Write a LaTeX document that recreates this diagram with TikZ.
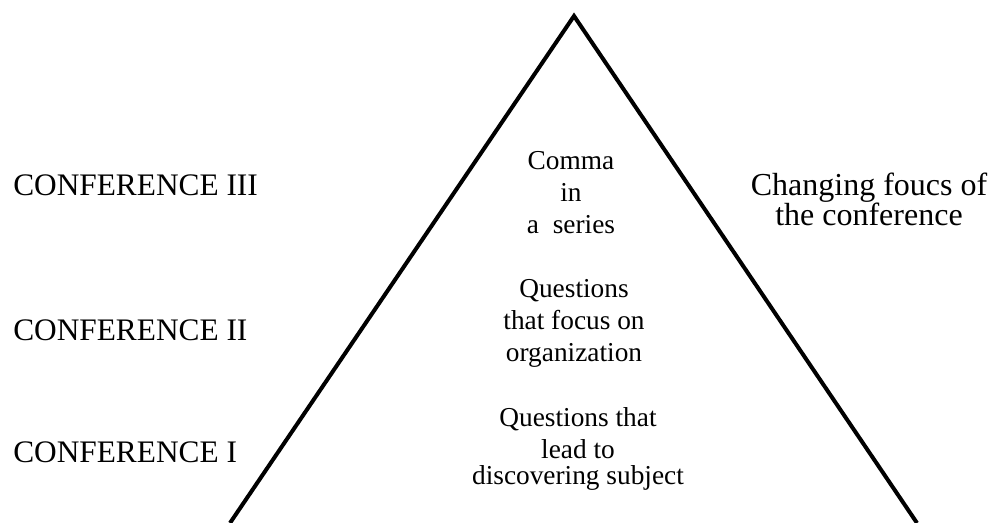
\documentclass[tikz,border=0pt]{standalone}
\usepackage{fontspec}
\setmainfont{Liberation Serif}
\usepackage{tikz}

\tikzset{
	sidelabel/.style={anchor=west, inner sep=0pt, font=\fontsize{23.5}{26}\selectfont},
	inlabel/.style={align=center, inner sep=0pt, font=\fontsize{20.5}{24}\selectfont},
	focuslabel/.style={align=center, inner sep=0pt, font=\fontsize{24}{22.5}\selectfont}
}

\begin{document}
\begin{tikzpicture}[x=0.75pt, y=-0.75pt]
		\useasboundingbox (0, 0) rectangle (994, 523);
		% pyramid
		\coordinate (apex) at (574, 16);
		\coordinate (baseleft) at (230, 523);
		\coordinate (baseright) at (917, 523);
		\draw[line width=3pt, line join=miter] (baseleft) -- (apex) -- (baseright);
		% levels on the left
		\node[sidelabel] (confthree) at (13, 185) {CONFERENCE III};
		\node[sidelabel] (conftwo) at (13, 330) {CONFERENCE II};
		\node[sidelabel] (confone) at (13, 452) {CONFERENCE I};
		% inside the pyramid
		\node[inlabel] (comma) at (571, 193) {Comma\\in\\a~~series};
		\node[inlabel] (organize) at (574, 323) {Questions\\that focus on\\organization};
		\node[inlabel] (subject) at (578, 449) {Questions that\\lead to\\[-5pt]discovering subject};
		% right side
		\node[focuslabel] (focus) at (869, 199) {Changing foucs of\\the conference};
	\end{tikzpicture}
\end{document}
